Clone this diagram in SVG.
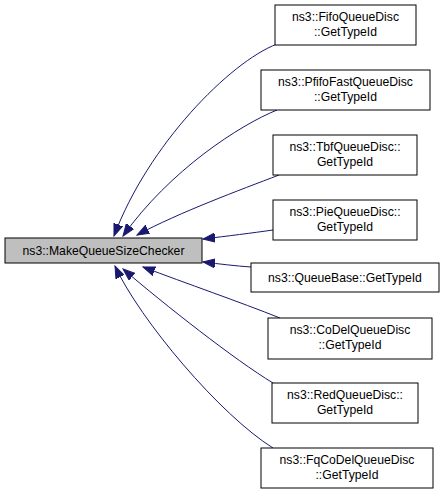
<svg xmlns="http://www.w3.org/2000/svg" width="445" height="495" viewBox="0 0 445 495">
<style>
.n rect{fill:#fff;stroke:#000;stroke-width:1}
.n text{font-family:"Liberation Sans",Arial,sans-serif;font-size:12.2px;text-anchor:middle;fill:#000}
#main rect{fill:#bfbfbf}
.e path{fill:none;stroke:#191970;stroke-width:1}
</style>
<defs>
<marker id="ah" markerUnits="userSpaceOnUse" markerWidth="14" markerHeight="10" refX="12" refY="5" orient="auto" viewBox="0 0 14 10">
<polygon points="0,0.5 12,5 0,9.5" fill="#191970" stroke="#191970"/>
</marker>
</defs>
<rect width="445" height="495" fill="#fff"/>
<g class="e" id="edges">
<path d="M277,44 C230,62 148,145 114,236" marker-end="url(#ah)"/>
<path d="M277,110 C240,125 170,170 123,236" marker-end="url(#ah)"/>
<path d="M279,175 C240,190 180,212 137,235" marker-end="url(#ah)"/>
<path d="M273,230 C252,233 228,236 203,239" marker-end="url(#ah)"/>
<path d="M251,267 C236,266 220,264 203,262" marker-end="url(#ah)"/>
<path d="M280,318 C240,302 185,283 143,267" marker-end="url(#ah)"/>
<path d="M273,383 C235,360 165,305 123,269" marker-end="url(#ah)"/>
<path d="M273,448 C220,415 140,320 115,266" marker-end="url(#ah)"/>
</g>
<g class="n" id="main"><rect x="5" y="238" width="197" height="25"/><text x="103.5" y="254.5">ns3::MakeQueueSizeChecker</text></g>
<g class="n" id="fifo"><rect x="275" y="5" width="141" height="40"/><text x="345.5" y="21">ns3::FifoQueueDisc</text><text x="345.5" y="36">::GetTypeId</text></g>
<g class="n" id="pfifo"><rect x="261" y="70" width="169" height="40"/><text x="345.5" y="86">ns3::PfifoFastQueueDisc</text><text x="345.5" y="101">::GetTypeId</text></g>
<g class="n" id="tbf"><rect x="273" y="135" width="144" height="40"/><text x="345" y="151">ns3::TbfQueueDisc::</text><text x="345" y="166">GetTypeId</text></g>
<g class="n" id="pie"><rect x="273" y="200" width="144" height="40"/><text x="345" y="216">ns3::PieQueueDisc::</text><text x="345" y="231">GetTypeId</text></g>
<g class="n" id="queuebase"><rect x="251" y="263" width="188" height="29"/><text x="345" y="282">ns3::QueueBase::GetTypeId</text></g>
<g class="n" id="codel"><rect x="268" y="318" width="164" height="41"/><text x="350" y="334">ns3::CoDelQueueDisc</text><text x="350" y="349">::GetTypeId</text></g>
<g class="n" id="red"><rect x="272" y="383" width="146" height="40"/><text x="345" y="399">ns3::RedQueueDisc::</text><text x="345" y="414">GetTypeId</text></g>
<g class="n" id="fqcodel"><rect x="261" y="448" width="172" height="40"/><text x="347" y="464">ns3::FqCoDelQueueDisc</text><text x="347" y="479">::GetTypeId</text></g>
</svg>
